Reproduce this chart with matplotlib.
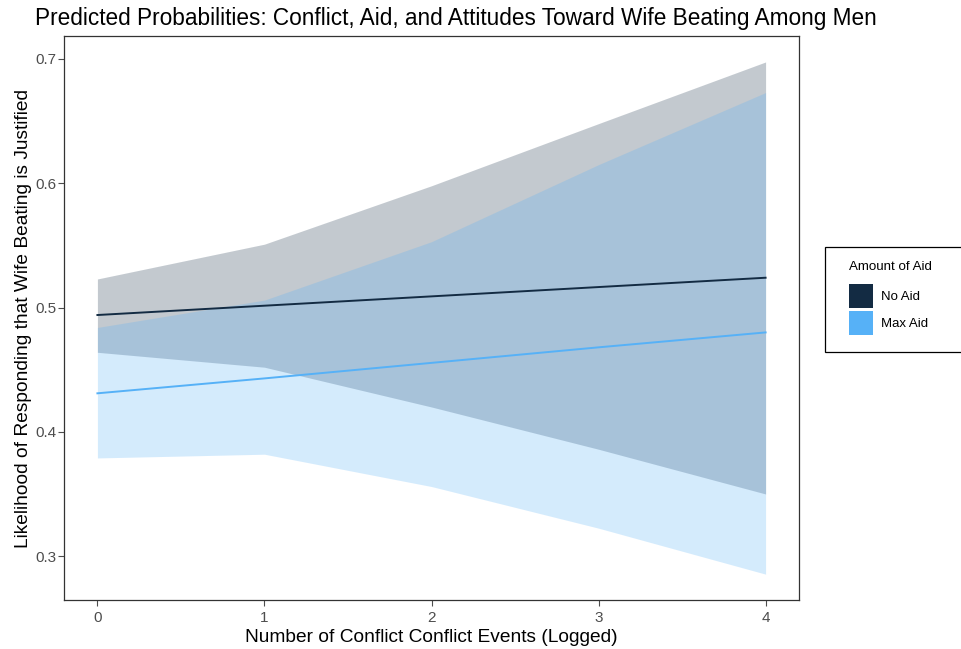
import matplotlib
matplotlib.use("Agg")
import matplotlib.pyplot as plt
from matplotlib.patches import Rectangle

plt.rcParams['font.family'] = ['Liberation Sans', 'DejaVu Sans']

# predicted probabilities at logged conflict events 0..4
conflict = [0, 1, 2, 3, 4]

no_aid_fit = [0.494, 0.5015, 0.509, 0.5165, 0.524]
no_aid_low = [0.464, 0.452, 0.420, 0.386, 0.350]
no_aid_high = [0.523, 0.551, 0.598, 0.648, 0.6976]

max_aid_fit = [0.431, 0.443, 0.4555, 0.468, 0.480]
max_aid_low = [0.379, 0.382, 0.356, 0.3225, 0.2855]
max_aid_high = [0.484, 0.506, 0.553, 0.615, 0.673]

groups = ['No Aid', 'Max Aid']
colors = ['#132B43', '#56B1F7']

fig = plt.figure(figsize=(9.61, 6.49), dpi=100)
ax = fig.add_axes([64 / 961, 1 - 600 / 649, 735 / 961, 564 / 649])

bands = [(no_aid_low, no_aid_high, no_aid_fit), (max_aid_low, max_aid_high, max_aid_fit)]
for (low, high, fit), col in zip(bands, colors):
    ax.fill_between(conflict, low, high, color=col, alpha=0.25, linewidth=0)
for (low, high, fit), col in zip(bands, colors):
    ax.plot(conflict, fit, color=col, linewidth=1.4)

ax.set_xlim(-0.2, 4.2)
ax.set_ylim(0.2647, 0.7185)
ax.set_xticks(conflict)
ax.set_yticks([0.3, 0.4, 0.5, 0.6, 0.7])
ax.tick_params(colors='#4d4d4d', labelsize=11, length=4, width=0.8)
ax.tick_params(axis='x', pad=4)
ax.tick_params(axis='y', pad=1.5)
for s in ax.spines.values():
    s.set_color('#333333')
    s.set_linewidth(0.9)

ax.set_xlabel('Number of Conflict Conflict Events (Logged)', fontsize=13.8, labelpad=3)
ax.set_ylabel('Likelihood of Responding that Wife Beating is Justified', fontsize=13.8, labelpad=2.5)
fig.text(35 / 961, 1 - 18 / 649, 'Predicted Probabilities: Conflict, Aid, and Attitudes Toward Wife Beating Among Men',
         fontsize=16.3, va='center', ha='left')

# legend box, running off the right edge like the original
W, H = 961, 649
fig.patches.append(Rectangle((825 / W, 1 - 352 / H), 150 / W, 105 / H, transform=fig.transFigure,
                             facecolor='white', edgecolor='black', linewidth=0.9))
fig.text(849 / W, 1 - 267 / H, 'Amount of Aid', fontsize=9.6, va='center', ha='left')
for i, (g, col) in enumerate(zip(groups, colors)):
    top = 284 + i * 27
    fig.patches.append(Rectangle((849 / W, 1 - (top + 24) / H), 24 / W, 24 / H, transform=fig.transFigure,
                                 facecolor=col, edgecolor='none'))
    fig.text(881 / W, 1 - (top + 13) / H, g, fontsize=9.5, va='center', ha='left')

fig.savefig('out.png', dpi=100)
